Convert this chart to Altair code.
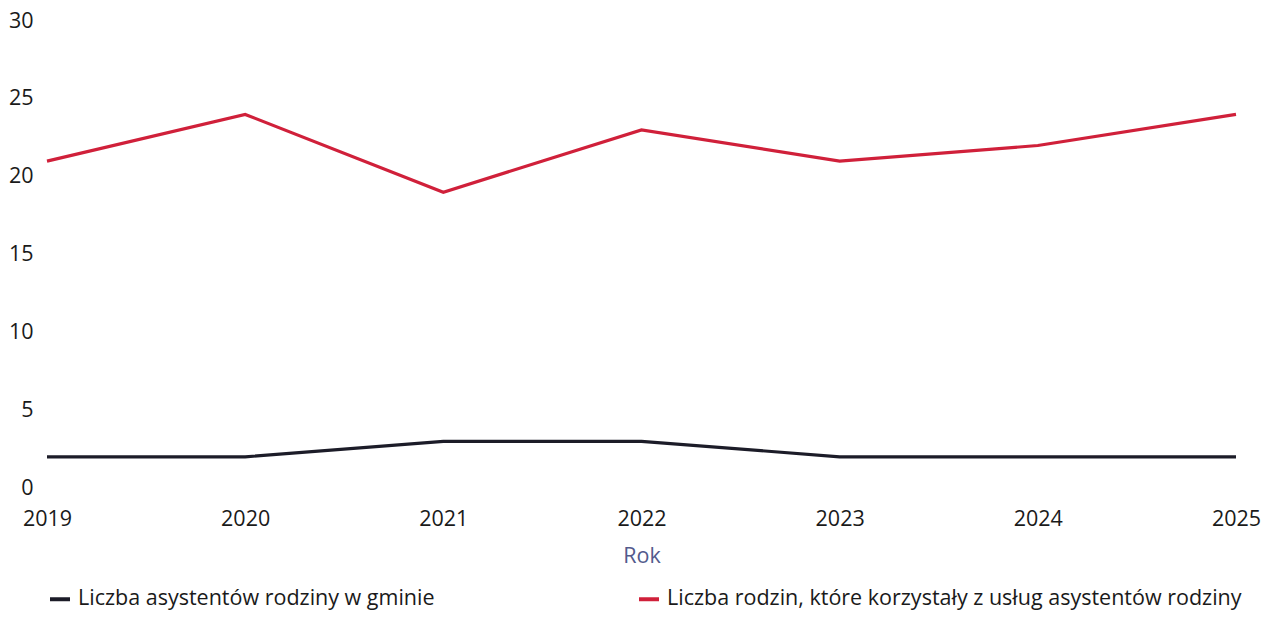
import altair as alt
import pandas as pd

years = [2019, 2020, 2021, 2022, 2023, 2024, 2025]
asystenci = [2, 2, 3, 3, 2, 2, 2]
rodziny = [21, 24, 19, 23, 21, 22, 24]
series_names = ["Liczba asystentów rodziny w gminie",
                "Liczba rodzin, które korzystały z usług asystentów rodziny"]
colors = ["#1c1c28", "#d0203a"]

rows = []
for y, v in zip(years, asystenci):
    rows.append({"Rok": y, "Wartość": v, "Seria": series_names[0]})
for y, v in zip(years, rodziny):
    rows.append({"Rok": y, "Wartość": v, "Seria": series_names[1]})
df = pd.DataFrame(rows)

FONT = "Open Sans"
FS = 21.5

chart = alt.Chart(df).mark_line(strokeWidth=3.2).encode(
    x=alt.X("Rok:Q", scale=alt.Scale(domain=[2019, 2025], nice=False, zero=False),
            axis=alt.Axis(values=years, format="d", title="Rok", grid=False, domain=False,
                          ticks=False, labelPadding=20, labelFontSize=FS, labelColor="#1a1a1a",
                          titleFontSize=FS, titleColor="#535a8c", titleFontWeight="normal",
                          titlePadding=16, labelFlush=False)),
    y=alt.Y("Wartość:Q", scale=alt.Scale(domain=[0, 30], nice=False),
            axis=alt.Axis(values=[0, 5, 10, 15, 20, 25, 30], title=None, grid=False, domain=False,
                          ticks=False, labelPadding=14, labelFontSize=FS, labelColor="#1a1a1a")),
    color=alt.Color("Seria:N", scale=alt.Scale(domain=series_names, range=colors),
                    legend=alt.Legend(title=None, orient="none", legendX=1, legendY=566,
                                      direction="horizontal", columns=2, columnPadding=196,
                                      symbolType="stroke", symbolStrokeWidth=4, symbolSize=400,
                                      labelFontSize=FS, labelColor="#1a1a1a", labelOffset=6,
                                      labelLimit=800)),
).properties(
    width=1189, height=467,
    autosize=alt.AutoSizeParams(type="none"),
    padding={"left": 39, "top": 13, "right": 29, "bottom": 124},
).configure(font=FONT).configure_view(stroke=None)

chart.save("out.html", embed_options={"renderer": "svg", "actions": False})
